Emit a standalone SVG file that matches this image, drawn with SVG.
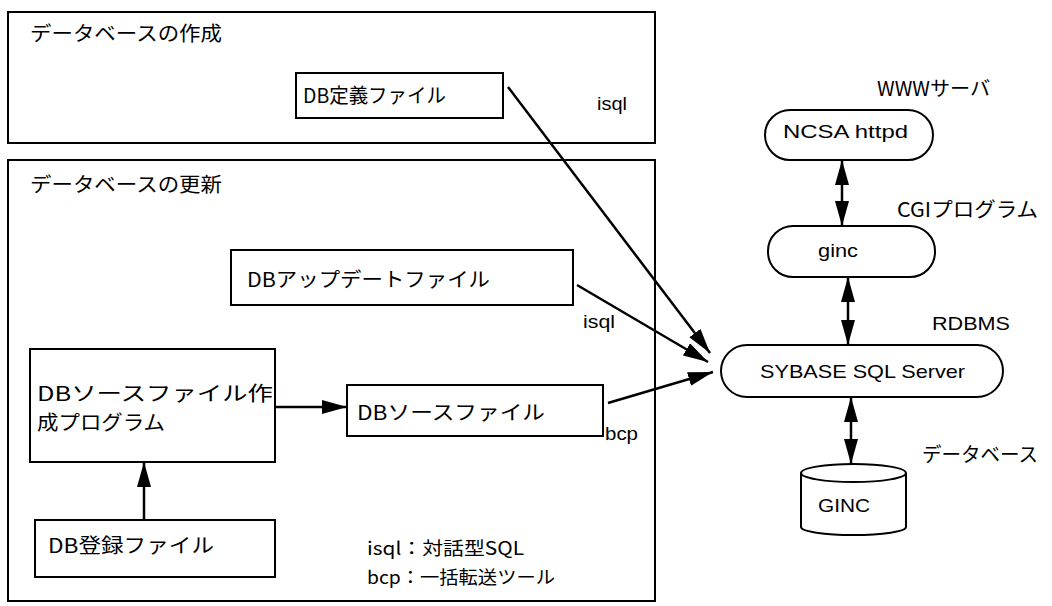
<svg xmlns="http://www.w3.org/2000/svg" width="1052" height="606" viewBox="0 0 1052 606">
<style>
.box{fill:none;stroke:#000;stroke-width:2}
.nbox{fill:#fff;stroke:#000;stroke-width:2}
.con{fill:none;stroke:#000;stroke-width:2.5}
.jp{font-family:"Noto Sans CJK JP","Liberation Sans",sans-serif;font-size:20px;fill:#000}
.lg{font-family:"Noto Sans CJK JP","Liberation Sans",sans-serif;font-size:18px;fill:#000}
.lt{font-family:"Liberation Sans","Noto Sans CJK JP",sans-serif;font-size:19px;fill:#000}
</style>
<defs>
<marker id="ah" viewBox="0 0 25 14" refX="25" refY="7" markerWidth="25" markerHeight="14" markerUnits="userSpaceOnUse" orient="auto-start-reverse">
<path d="M0,0 L25,7 L0,14 z" fill="#000"/>
</marker>
</defs>
<rect width="1052" height="606" fill="#fff"/>

<g id="group-create">
<rect class="box" x="8" y="12" width="647" height="131"/>
<text class="jp" x="30" y="41" textLength="192" lengthAdjust="spacingAndGlyphs">データベースの作成</text>
</g>
<g id="group-update">
<rect class="box" x="8" y="160" width="647" height="441"/>
<text class="jp" x="30" y="192" textLength="192" lengthAdjust="spacingAndGlyphs">データベースの更新</text>
</g>

<g id="connectors">
<line class="con" x1="508" y1="87" x2="710" y2="353" marker-end="url(#ah)"/>
<line class="con" x1="577" y1="285" x2="708" y2="362" marker-end="url(#ah)"/>
<line class="con" x1="608" y1="403" x2="713" y2="372" marker-end="url(#ah)"/>
<line class="con" x1="275" y1="407" x2="347" y2="407" marker-end="url(#ah)"/>
<line class="con" x1="144" y1="520" x2="144" y2="462" marker-end="url(#ah)"/>
<line class="con" x1="842" y1="160" x2="842" y2="226" marker-start="url(#ah)" marker-end="url(#ah)"/>
<line class="con" x1="848" y1="277" x2="848" y2="345" marker-start="url(#ah)" marker-end="url(#ah)"/>
<line class="con" x1="851" y1="397" x2="851" y2="464" marker-start="url(#ah)" marker-end="url(#ah)"/>
<text class="lt" x="597" y="110" textLength="30" lengthAdjust="spacingAndGlyphs">isql</text>
<text class="lt" x="583" y="328" textLength="32" lengthAdjust="spacingAndGlyphs">isql</text>
<text class="lt" x="605" y="440" textLength="33" lengthAdjust="spacingAndGlyphs">bcp</text>
</g>

<g id="db-def">
<rect class="nbox" x="296" y="73" width="207" height="45"/>
<text class="jp" x="303" y="103" textLength="143" lengthAdjust="spacingAndGlyphs">DB定義ファイル</text>
</g>
<g id="db-update">
<rect class="nbox" x="231" y="250" width="342" height="55"/>
<text class="jp" x="247" y="287" textLength="243" lengthAdjust="spacingAndGlyphs">DBアップデートファイル</text>
</g>
<g id="db-source-prog">
<rect class="nbox" x="30" y="349" width="245" height="113"/>
<text class="jp" x="37" y="401" textLength="236" lengthAdjust="spacingAndGlyphs">DBソースファイル作</text>
<text class="jp" x="37" y="430" textLength="128" lengthAdjust="spacingAndGlyphs">成プログラム</text>
</g>
<g id="db-source">
<rect class="nbox" x="347" y="385" width="256" height="51"/>
<text class="jp" x="357" y="420" textLength="188" lengthAdjust="spacingAndGlyphs">DBソースファイル</text>
</g>
<g id="db-register">
<rect class="nbox" x="35" y="520" width="240" height="57"/>
<text class="jp" x="48" y="553" textLength="166" lengthAdjust="spacingAndGlyphs">DB登録ファイル</text>
</g>
<g id="legend">
<text class="lg" x="367" y="555" textLength="157" lengthAdjust="spacingAndGlyphs">isql：対話型SQL</text>
<text class="lg" x="367" y="584" textLength="188" lengthAdjust="spacingAndGlyphs">bcp：一括転送ツール</text>
</g>

<g id="httpd">
<text class="jp" x="877" y="96" textLength="113" lengthAdjust="spacingAndGlyphs">WWWサーバ</text>
<rect class="nbox" x="765" y="110" width="168" height="50" rx="25"/>
<text class="lt" x="783" y="138" textLength="125" lengthAdjust="spacingAndGlyphs">NCSA httpd</text>
</g>
<g id="ginc">
<text class="jp" x="897" y="217" textLength="141" lengthAdjust="spacingAndGlyphs">CGIプログラム</text>
<rect class="nbox" x="768" y="226" width="167" height="51" rx="25"/>
<text class="lt" x="818" y="257" textLength="40" lengthAdjust="spacingAndGlyphs">ginc</text>
</g>
<g id="sybase">
<text class="lt" x="932" y="330" textLength="78" lengthAdjust="spacingAndGlyphs">RDBMS</text>
<rect class="nbox" x="721" y="345" width="282" height="52" rx="26"/>
<text class="lt" x="760" y="378" textLength="205" lengthAdjust="spacingAndGlyphs">SYBASE SQL Server</text>
</g>
<g id="database">
<text class="jp" x="922" y="462" textLength="116" lengthAdjust="spacingAndGlyphs">データベース</text>
<path class="nbox" d="M801,473 L801,527 A52.5,8 0 0 0 906,527 L906,473"/>
<ellipse class="nbox" cx="853.5" cy="473" rx="52.5" ry="9"/>
<text class="lt" x="818" y="512" textLength="52" lengthAdjust="spacingAndGlyphs">GINC</text>
</g>
</svg>
